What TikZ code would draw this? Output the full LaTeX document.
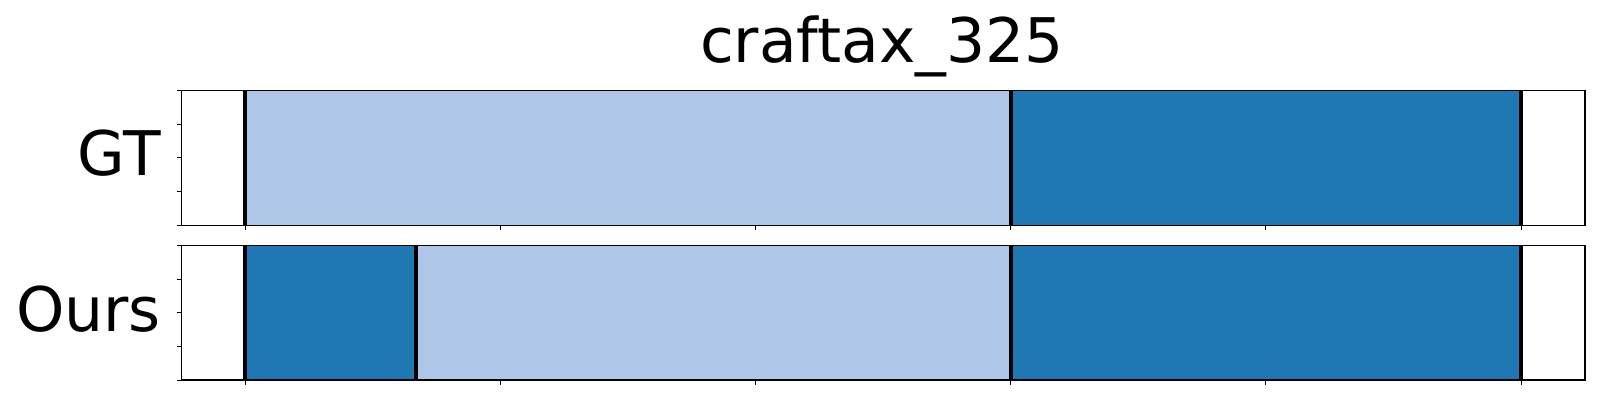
\documentclass[tikz,border=0pt]{standalone}
\usepackage{fontspec}
\setmainfont{DejaVu Sans}
\definecolor{lightseg}{HTML}{AEC7E8}
\definecolor{darkseg}{HTML}{1F77B4}
\begin{document}
\begin{tikzpicture}[x=1pt,y=-1pt,
  axframe/.style={draw=black,line width=1.3pt},
  boundary/.style={draw=black,line width=4pt},
  tickmark/.style={draw=black,line width=1pt},
  biglabel/.style={font=\fontsize{61.5}{61.5}\selectfont,inner sep=0pt}]
\useasboundingbox[fill=white] (0,0) rectangle (1600,400);
% title
\node[biglabel,anchor=base] (title) at (882,62) {craftax\_325};
% row labels
\node[biglabel,anchor=base east] (gt) at (161,175) {GT};
\node[biglabel,anchor=base east] (ours) at (161,331) {Ours};
% GT segments
\fill[lightseg] (245,90.3) rectangle (1010.6,225.3);
\fill[darkseg] (1010.6,90.3) rectangle (1521,225.3);
% Ours segments
\fill[darkseg] (245,245.7) rectangle (415.5,380);
\fill[lightseg] (415.5,245.7) rectangle (1010.6,380);
\fill[darkseg] (1010.6,245.7) rectangle (1521,380);
% boundaries
\foreach \bx in {245,1010.6,1521} \draw[boundary] (\bx,90.3) -- (\bx,225.3);
\foreach \bx in {245,415.5,1010.6,1521} \draw[boundary] (\bx,245.7) -- (\bx,380);
% axes frames
\draw[axframe] (181.5,90.3) rectangle (1585,225.3);
\draw[axframe] (181.5,245.7) rectangle (1585,380);
% ticks
\foreach \ty in {90.3,124.05,157.8,191.55,225.3} \draw[tickmark] (181.5,\ty) -- (176.5,\ty);
\foreach \ty in {245.7,279.3,312.85,346.4,380} \draw[tickmark] (181.5,\ty) -- (176.5,\ty);
\foreach \tx in {245,500.2,755.4,1010.6,1265.8,1521} {
  \draw[tickmark] (\tx,225.3) -- (\tx,230.3);
  \draw[tickmark] (\tx,380) -- (\tx,385);
}
\end{tikzpicture}
\end{document}
